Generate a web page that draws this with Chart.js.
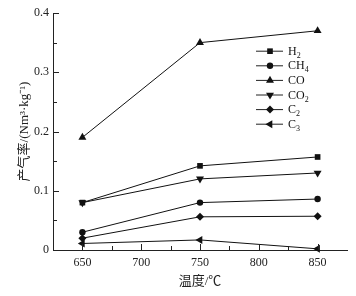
<!DOCTYPE html>
<html><head><meta charset="utf-8">
<script src="https://cdn.jsdelivr.net/npm/chart.js@4"></script>
<style>html,body{margin:0;padding:0;background:#fff}#wrap{width:356px;height:296px}</style>
</head><body><div id="wrap"><canvas id="c" width="356" height="296"></canvas></div>
<script>
const temps = [650, 750, 850];
const H2 = [0.080, 0.142, 0.157];
const CH4 = [0.030, 0.080, 0.086];
const CO = [0.190, 0.350, 0.370];
const CO2 = [0.080, 0.120, 0.130];
const C2 = [0.020, 0.056, 0.057];
const C3 = [0.011, 0.017, 0.002];
const xTicks = [650, 700, 750, 800, 850];
const yTicks = [0, 0.1, 0.2, 0.3, 0.4];
const seriesNames = [["H","2"],["CH","4"],["CO",""],["CO","2"],["C","2"],["C","3"]];
const seriesData = [H2, CH4, CO, CO2, C2, C3];
const styles = [['rect',0,4],['circle',0,3.2],['triangle',0,4.6],['triangle',180,4.6],['rectRot',0,4],['triangle',-90,4.6]];

const SERIF = '"Liberation Serif","Times New Roman",serif';
const CJK = '"Liberation Serif","Noto Sans CJK SC",serif';
const datasets = seriesData.map((arr,i)=>({
  label: seriesNames[i].join(''),
  data: temps.map((t,j)=>({x:t,y:arr[j]})),
  borderColor:'#111', backgroundColor:'#111', borderWidth:1,
  pointStyle: styles[i][0], rotation: styles[i][1],
  pointRadius: styles[i][2],
  pointBorderWidth:0, clip:false, tension:0
}));

const tickPlugin = {
  id:'ticks',
  afterDraw(chart){
    const ctx = chart.ctx, xs = chart.scales.x, ys = chart.scales.y, a = chart.chartArea;
    ctx.save(); ctx.strokeStyle='#222'; ctx.lineWidth=1;
    for(let v=650; v<=850; v+=25){
      const px = Math.round(xs.getPixelForValue(v))+0.5;
      const L = (v%50===0)?6:4;
      ctx.beginPath(); ctx.moveTo(px,a.bottom); ctx.lineTo(px,a.bottom-L); ctx.stroke();
    }
    for(let k=0;k<=8;k++){
      const v=k*0.05;
      const py = Math.round(ys.getPixelForValue(v))+0.5;
      const L = (k%2===0)?6:4;
      ctx.beginPath(); ctx.moveTo(a.left,py); ctx.lineTo(a.left+L,py); ctx.stroke();
    }
    // legend
    const x0=256, x1=283, xm=270, tx=288, y0=50.7, dy=14.6;
    ctx.fillStyle='#111';
    seriesNames.forEach((nm,i)=>{
      const y = y0+dy*i;
      ctx.beginPath(); ctx.moveTo(x0,y+0.5); ctx.lineTo(x1,y+0.5); ctx.stroke();
      Chart.helpers.drawPoint(ctx,{pointStyle:styles[i][0],rotation:styles[i][1],radius:styles[i][2],borderWidth:0},xm,y+0.5);
      ctx.fillStyle='#111';
      ctx.font='12px '+SERIF; ctx.textBaseline='middle'; ctx.textAlign='left';
      ctx.fillText(nm[0],tx,y+1);
      const w=ctx.measureText(nm[0]).width;
      if(nm[1]){ ctx.font='8px '+SERIF; ctx.fillText(nm[1],tx+w,y+5); }
    });
    ctx.restore();
  }
};

new Chart(document.getElementById('c'),{
  type:'line',
  data:{datasets},
  options:{
    responsive:false, animation:false, devicePixelRatio:1,
    layout:{padding:{top:13,right:9,left:0,bottom:0}},
    plugins:{legend:{display:false},tooltip:{enabled:false}},
    scales:{
      x:{type:'linear',min:625,max:875,
        afterBuildTicks(s){s.ticks=xTicks.map(v=>({value:v}));},
        afterFit(s){s.height=46;},
        grid:{display:true,drawOnChartArea:false,drawTicks:false},
        border:{display:true,color:'#222',width:1},
        ticks:{color:'#222',padding:6,font:{family:SERIF,size:12},maxRotation:0},
        title:{display:true,text:'温度/℃',color:'#222',padding:{top:0,bottom:7},font:{family:CJK,size:13}}
      },
      y:{min:0,max:0.4,
        afterBuildTicks(s){s.ticks=yTicks.map(v=>({value:v}));},
        afterFit(s){s.width=53;},
        grid:{display:true,drawOnChartArea:false,drawTicks:false},
        border:{display:true,color:'#222',width:1},
        ticks:{color:'#222',padding:4,font:{family:SERIF,size:12},callback:v=>v===0?'0':v.toFixed(1)},
        title:{display:true,text:'产气率/(Nm³·kg⁻¹)',color:'#222',padding:{top:17,bottom:0},font:{family:CJK,size:13}}
      }
    }
  },
  plugins:[tickPlugin]
});
</script></body></html>
